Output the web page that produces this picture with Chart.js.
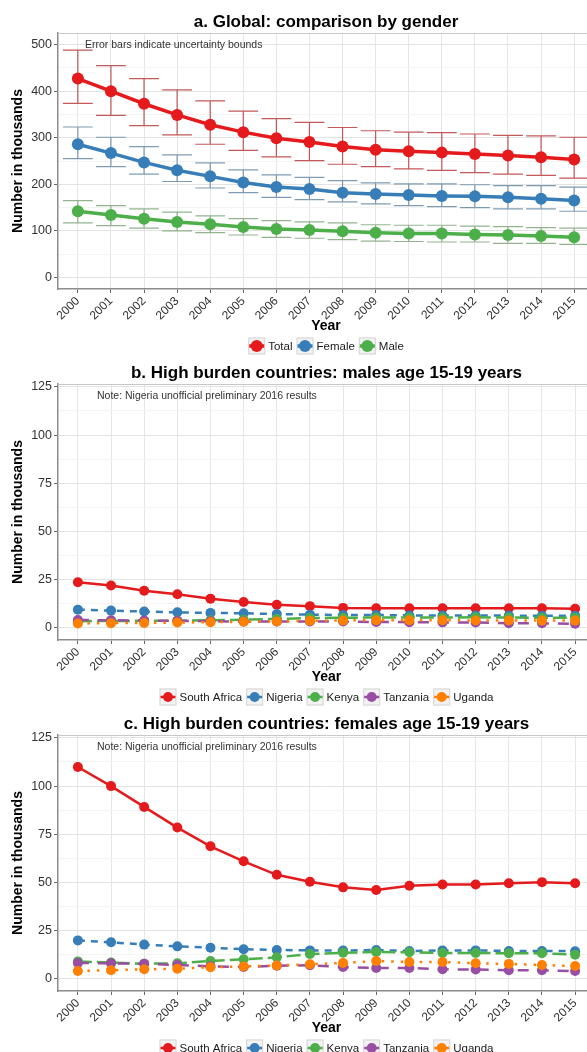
<!DOCTYPE html>
<html>
<head>
<meta charset="utf-8">
<script src="https://cdn.jsdelivr.net/npm/chart.js@4.4.1/dist/chart.umd.min.js"></script>
<style>
  html, body { margin: 0; padding: 0; background: #fff; overflow: hidden; }
  canvas { position: absolute; left: 0; }
  #chart-a { top: 0; }
  #chart-b { top: 358px; }
  #chart-c { top: 708px; }
</style>
</head>
<body>
<canvas id="chart-a" width="600" height="358"></canvas>
<canvas id="chart-b" width="600" height="350"></canvas>
<canvas id="chart-c" width="600" height="344"></canvas>
<script>
// ---- data (thousands) ----
const years = [2000, 2001, 2002, 2003, 2004, 2005, 2006, 2007, 2008, 2009, 2010, 2011, 2012, 2013, 2014, 2015];

// a. global by gender, with uncertainty bounds
const totalVals  = [427, 400, 373, 349, 328, 312, 299, 291, 281, 274, 271, 268, 265, 262, 258, 253];
const totalLow   = [374, 348, 326, 306, 286, 273, 259, 251, 243, 238, 233, 230, 225, 222, 219, 213];
const totalHigh  = [488, 455, 427, 403, 379, 357, 341, 333, 322, 315, 312, 311, 308, 305, 304, 301];
const femaleVals = [286, 267, 247, 230, 217, 204, 194, 190, 182, 179, 177, 175, 174, 172, 169, 165];
const femaleLow  = [255, 238, 222, 206, 192, 182, 172, 167, 162, 158, 154, 152, 150, 147, 147, 142];
const femaleHigh = [323, 301, 281, 263, 246, 231, 220, 215, 208, 203, 201, 201, 199, 197, 197, 194];
const maleVals   = [142, 134, 126, 119, 114, 108, 104, 102, 99, 96, 94, 94, 92, 91, 89, 86];
const maleLow    = [117, 111, 106, 100, 96, 91, 86, 84, 81, 78, 77, 76, 76, 73, 73, 71];
const maleHigh   = [165, 154, 147, 140, 132, 126, 122, 119, 117, 113, 112, 112, 110, 109, 107, 106];

// b. males 15-19, high burden countries
const maleSA = [23.7, 22.0, 19.3, 17.5, 15.2, 13.5, 12.0, 11.3, 10.4, 10.2, 10.2, 10.2, 10.2, 10.2, 10.2, 10.0];
const maleNG = [9.5, 9.0, 8.5, 8.1, 7.8, 7.6, 7.2, 6.9, 6.7, 6.7, 6.5, 6.5, 6.4, 6.4, 6.3, 6.3];
const maleKE = [3.5, 3.6, 3.7, 3.8, 4.0, 4.3, 4.7, 5.1, 5.3, 5.4, 5.4, 5.4, 5.5, 5.4, 5.3, 5.3];
const maleTZ = [4.1, 4.0, 3.8, 3.7, 3.5, 3.3, 3.3, 3.4, 3.3, 3.1, 3.0, 2.9, 2.8, 2.4, 2.4, 2.2];
const maleUG = [2.3, 2.5, 2.6, 2.8, 3.0, 3.2, 3.4, 3.7, 3.9, 4.0, 4.0, 4.0, 3.9, 3.9, 3.8, 3.8];

// c. females 15-19, high burden countries
const femSA = [109.9, 100.0, 89.2, 78.5, 68.8, 61.0, 54.0, 50.4, 47.5, 46.1, 48.3, 49.0, 49.0, 49.6, 50.2, 49.6];
const femNG = [20.0, 19.0, 17.8, 16.9, 16.2, 15.4, 15.0, 14.8, 14.7, 15.0, 14.5, 14.8, 14.8, 14.5, 14.5, 14.4];
const femKE = [9.1, 8.5, 7.9, 8.1, 9.3, 10.2, 11.2, 12.9, 13.6, 14.0, 13.8, 13.5, 13.5, 13.3, 13.3, 12.6];
const femTZ = [8.3, 8.1, 7.9, 7.2, 6.6, 6.2, 6.9, 7.1, 6.2, 5.7, 5.7, 5.0, 4.9, 4.5, 4.5, 4.1];
const femUG = [4.1, 4.5, 5.0, 5.3, 6.1, 6.5, 7.0, 7.6, 8.3, 9.3, 8.8, 8.8, 8.1, 7.8, 7.2, 6.7];

const countries = ["South Africa", "Nigeria", "Kenya", "Tanzania", "Uganda"];

const ticksA = [0, 100, 200, 300, 400, 500];
const minorA = [50, 150, 250, 350, 450];
const ticksBC = [0, 25, 50, 75, 100, 125];
const minorBC = [12.5, 37.5, 62.5, 87.5, 112.5];

const RED = '#E41A1C', BLUE = '#377EB8', GREEN = '#4DAF4A', PURPLE = '#984EA3', ORANGE = '#FF7F00';
const FONT = '"Liberation Sans", Arial, sans-serif';
Chart.defaults.font.family = FONT;
Chart.defaults.color = '#333';

const xy = vals => years.map((yr, i) => ({ x: yr, y: vals[i] }));

// draws error bars, title, note, panel border and ggplot-like legend
const panelPlugin = {
  id: 'panel',
  beforeDatasetsDraw(chart, args, opts) {
    const { ctx, scales: { x, y } } = chart;
    const half = 0.45 * (x.getPixelForValue(2001) - x.getPixelForValue(2000));
    (opts.errorBars || []).forEach(eb => {
      ctx.save();
      ctx.strokeStyle = eb.color;
      ctx.lineWidth = 1.2;
      years.forEach((yr, i) => {
        const px = x.getPixelForValue(yr);
        const lo = y.getPixelForValue(eb.low[i]);
        const hi = y.getPixelForValue(eb.high[i]);
        ctx.beginPath();
        ctx.moveTo(px, lo); ctx.lineTo(px, hi);
        ctx.moveTo(px - half, lo); ctx.lineTo(px + half, lo);
        ctx.moveTo(px - half, hi); ctx.lineTo(px + half, hi);
        ctx.stroke();
      });
      ctx.restore();
    });
  },
  afterDraw(chart, args, opts) {
    const { ctx, chartArea: a } = chart;
    const cx = (a.left + a.right) / 2;
    ctx.save();
    // top border of the panel
    ctx.strokeStyle = '#c8c8c8';
    ctx.lineWidth = 1;
    ctx.beginPath();
    ctx.moveTo(a.left, a.top + 0.5); ctx.lineTo(a.right, a.top + 0.5);
    ctx.moveTo(a.right - 0.5, a.top); ctx.lineTo(a.right - 0.5, a.bottom);
    ctx.stroke();

    // title
    ctx.fillStyle = '#000';
    ctx.font = 'bold 17px ' + FONT;
    ctx.textAlign = 'center';
    ctx.textBaseline = 'middle';
    ctx.fillText(opts.title, cx, a.top - 11);

    // note
    ctx.fillStyle = '#333';
    ctx.font = '10.5px ' + FONT;
    ctx.textAlign = 'left';
    ctx.fillText(opts.note, a.left + opts.noteDx, a.top + 12);

    // legend
    const ly = a.bottom + 57;
    ctx.font = '11.5px ' + FONT;
    const items = chart.data.datasets.map(d => ({ d, w: 17 + 3 + ctx.measureText(d.label).width }));
    const gap = 4;
    const total = items.reduce((s, it) => s + it.w, 0) + gap * (items.length - 1);
    let x0 = cx - total / 2;
    items.forEach(({ d, w }) => {
      ctx.fillStyle = '#f2f2f2';
      ctx.fillRect(x0, ly - 8.5, 17, 17);
      ctx.strokeStyle = '#d6d6d6';
      ctx.lineWidth = 1;
      ctx.setLineDash([]);
      ctx.strokeRect(x0 + 0.5, ly - 8, 16, 16);
      ctx.strokeStyle = d.borderColor;
      ctx.lineWidth = d.borderWidth;
      ctx.beginPath();
      ctx.moveTo(x0 + 1, ly); ctx.lineTo(x0 + 16, ly);
      ctx.stroke();
      ctx.fillStyle = d.borderColor;
      ctx.beginPath();
      ctx.arc(x0 + 8.5, ly, d.pointRadius, 0, Math.PI * 2);
      ctx.fill();
      ctx.fillStyle = '#1a1a1a';
      ctx.textAlign = 'left';
      ctx.fillText(d.label, x0 + 20, ly + 0.5);
      x0 += w + gap;
    });
    ctx.restore();
  }
};

function makeScales(yMin, yMax, major, minor, step) {
  const isMajor = v => v % step === 0;
  return {
    x: {
      type: 'linear', min: 1999.4, max: 2015.6,
      afterBuildTicks: s => { s.ticks = years.map(v => ({ value: v })); },
      afterFit: s => { s.height = 47; },
      ticks: { minRotation: 45, maxRotation: 45, autoSkip: false, padding: 1,
               font: { size: 12 }, color: '#333', callback: v => String(v) },
      grid: { color: '#e6e6e6', tickColor: '#666', tickLength: 4 },
      border: { color: '#8c8c8c', width: 1.5 },
      title: { display: true, text: 'Year', color: '#000',
               font: { size: 14, weight: 'bold' }, padding: { top: 0, bottom: 1 } }
    },
    y: {
      min: yMin, max: yMax,
      afterBuildTicks: s => { s.ticks = major.concat(minor).sort((p, q) => p - q).map(v => ({ value: v })); },
      afterFit: s => { s.width = 58; },
      ticks: { padding: 2, font: { size: 12.5 }, color: '#333',
               callback: v => isMajor(v) ? String(v) : '' },
      grid: {
        color: c => isMajor(c.tick.value) ? '#e3e3e3' : '#f3f3f3',
        tickColor: c => isMajor(c.tick.value) ? '#666' : 'rgba(0,0,0,0)',
        tickLength: 4
      },
      border: { color: '#8c8c8c', width: 1.5 },
      title: { display: true, text: 'Number in thousands', color: '#000',
               font: { size: 14, weight: 'bold' }, padding: { top: 10, bottom: 0 } }
    }
  };
}

function lineSet(label, vals, color, width, radius, dash, order) {
  return {
    label, data: xy(vals), borderColor: color, backgroundColor: color,
    borderWidth: width, borderDash: dash, pointRadius: radius,
    pointBackgroundColor: color, pointBorderWidth: 0, tension: 0, order
  };
}

const baseOpts = { responsive: false, animation: false, events: [] };

new Chart(document.getElementById('chart-a'), {
  type: 'line',
  data: {
    datasets: [
      lineSet('Total', totalVals, RED, 3.5, 6, [], 0),
      lineSet('Female', femaleVals, BLUE, 3.5, 6, [], 1),
      lineSet('Male', maleVals, GREEN, 3.5, 6, [], 2)
    ]
  },
  plugins: [panelPlugin],
  options: Object.assign({}, baseOpts, {
    layout: { padding: { top: 33, bottom: 22, left: 0, right: 3 } },
    scales: makeScales(-25, 525, ticksA, minorA, 100),
    plugins: {
      legend: { display: false }, tooltip: { enabled: false },
      panel: {
        title: 'a. Global: comparison by gender',
        note: 'Error bars indicate uncertainty bounds', noteDx: 27,
        errorBars: [
          { low: totalLow, high: totalHigh, color: 'rgba(185,60,62,0.85)' },
          { low: femaleLow, high: femaleHigh, color: 'rgba(95,130,160,0.8)' },
          { low: maleLow, high: maleHigh, color: 'rgba(120,160,115,0.8)' }
        ]
      }
    }
  })
});

function countryChart(id, title, series, padTop, padBottom) {
  const colors = [RED, BLUE, GREEN, PURPLE, ORANGE];
  const dashes = [[], [7, 6], [14, 5], [11, 9], [2.5, 7]];
  new Chart(document.getElementById(id), {
    type: 'line',
    data: {
      datasets: countries.map((c, i) => lineSet(c, series[i], colors[i], 2.5, 5, dashes[i], 4 - i))
    },
    plugins: [panelPlugin],
    options: Object.assign({}, baseOpts, {
      layout: { padding: { top: padTop, bottom: padBottom, left: 0, right: 3 } },
      scales: makeScales(-6.25, 126.5, ticksBC, minorBC, 25),
      plugins: {
        legend: { display: false }, tooltip: { enabled: false },
        panel: { title, note: 'Note: Nigeria unofficial preliminary 2016 results', noteDx: 39 }
      }
    })
  });
}

countryChart('chart-b', 'b. High burden countries: males age 15-19 years',
  [maleSA, maleNG, maleKE, maleTZ, maleUG], 26, 21);
countryChart('chart-c', 'c. High burden countries: females age 15-19 years',
  [femSA, femNG, femKE, femTZ, femUG], 27, 14);
</script>
</body>
</html>
